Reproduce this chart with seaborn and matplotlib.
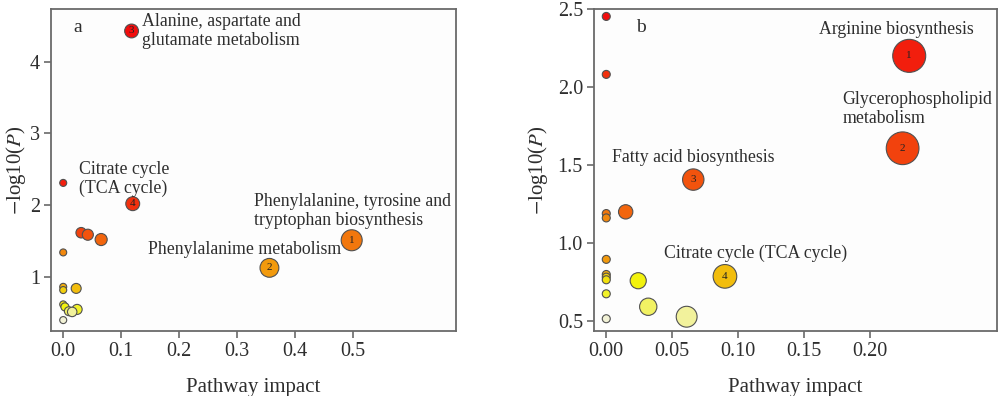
import colorsys
import numpy as np
import pandas as pd
import matplotlib
matplotlib.use("Agg")
import matplotlib.pyplot as plt
import seaborn as sns
from matplotlib.colors import ListedColormap

# ---------------- data: panel a ----------------
impact_a = [0.118, 0.0, 0.120, 0.031, 0.0425, 0.0655, 0.498, 0.0, 0.356,
            0.0, 0.0224, 0.0, 0.0, 0.003, 0.024, 0.0098, 0.0155, 0.0]
logp_a = [4.43, 2.31, 2.02, 1.615, 1.587, 1.52, 1.51, 1.34, 1.125,
          0.86, 0.838, 0.815, 0.615, 0.58, 0.545, 0.52, 0.51, 0.396]
num_idx_a = [0, 2, 6, 8]
num_txt_a = ["3", "4", "1", "2"]
ann_txt_a = ["Alanine, aspartate and\nglutamate metabolism",
             "Citrate cycle\n(TCA cycle)",
             "Phenylalanine, tyrosine and\ntryptophan biosynthesis",
             "Phenylalanime metabolism"]
ann_x_a = [0.136, 0.028, 0.329, 0.146]
ann_y_a = [4.43, 2.37, 1.92, 1.38]
xticks_a = [0.0, 0.1, 0.2, 0.3, 0.4, 0.5]
yticks_a = [1, 2, 3, 4]

# ---------------- data: panel b ----------------
impact_b = [0.0, 0.2295, 0.0, 0.2245, 0.0659, 0.0147, 0.0, 0.0, 0.0,
            0.0, 0.0899, 0.0, 0.0, 0.0242, 0.0, 0.0318, 0.0609, 0.0]
logp_b = [2.453, 2.20, 2.081, 1.607, 1.406, 1.199, 1.188, 1.16, 0.894,
          0.797, 0.785, 0.78, 0.763, 0.757, 0.673, 0.59, 0.526, 0.513]
num_idx_b = [1, 3, 4, 10]
num_txt_b = ["1", "2", "3", "4"]
ann_txt_b = ["Arginine biosynthesis",
             "Glycerophospholipid\nmetabolism",
             "Fatty acid biosynthesis",
             "Citrate cycle (TCA cycle)"]
ann_x_b = [0.161, 0.1788, 0.0045, 0.0439]
ann_y_b = [2.372, 1.859, 1.549, 0.934]
xticks_b = [0.00, 0.05, 0.10, 0.15, 0.20]
yticks_b = [0.5, 1.0, 1.5, 2.0, 2.5]

sns.set_theme(style="white")
plt.rcParams['font.family'] = ['Liberation Serif', 'DejaVu Serif']
plt.rcParams['mathtext.fontset'] = 'stix'

TXT = "#2e2e2e"
SPINE = "#6a6a6a"


def heat_colors(n):
    """R's heat.colors(n)"""
    j = n // 4
    i = n - j
    cols = [colorsys.hsv_to_rgb((k / (i - 1)) * (1 / 6), 1, 1) for k in range(i)]
    if j > 0:
        ss = np.linspace(1 - 1 / (2 * j), 1 / (2 * j), j)
        cols += [colorsys.hsv_to_rgb(1 / 6, s, 1) for s in ss]
    # slight muting as in the printed figure
    return [tuple(np.clip(np.array(c) * 0.9 + 0.05, 0, 1)) for c in cols]


def panel(ax, impact, logp, dmin, dmax, xlim, ylim, xticks, yticks, xfmt, yfmt,
          num_idx, num_txt, ann_x, ann_y, ann_txt, letter, letter_x, ylab_x):
    df = pd.DataFrame({"impact": impact, "logp": logp})
    n = len(df)
    order = np.argsort(-df["logp"].to_numpy(), kind="stable")
    rank = np.empty(n, dtype=int)
    rank[order] = np.arange(1, n + 1)
    df["rank"] = rank
    cmap = ListedColormap(heat_colors(n))
    diam = dmin + (dmax - dmin) * np.sqrt(df["impact"] / df["impact"].max())
    s = (diam * 72 / 100) ** 2
    sns.scatterplot(data=df, x="impact", y="logp", hue="rank", palette=cmap,
                    hue_norm=(0.5, n + 0.5), s=s, edgecolor="#505050",
                    linewidth=0.8, legend=False, ax=ax, zorder=3)
    for i, t in zip(num_idx, num_txt):
        ax.text(impact[i], logp[i], t, ha="center", va="center",
                fontsize=8, color="#222222", zorder=4)
    for x, y, t in zip(ann_x, ann_y, ann_txt):
        ax.text(x, y, t, ha="left", va="center", fontsize=12.8,
                color=TXT, linespacing=1.12, zorder=5)
    ax.set_xlim(*xlim)
    ax.set_ylim(*ylim)
    ax.set_xticks(xticks)
    ax.set_xticklabels([xfmt.format(v) for v in xticks])
    ax.set_yticks(yticks)
    ax.set_yticklabels([yfmt.format(v) for v in yticks])
    ax.tick_params(axis="both", direction="out", length=5, width=1.2,
                   color=SPINE, labelsize=14.5, labelcolor=TXT, pad=3,
                   left=True, bottom=True)
    for sp in ax.spines.values():
        sp.set_color(SPINE)
        sp.set_linewidth(1.3)
    ax.set_facecolor("#fdfdfd")
    ax.set_xlabel("Pathway impact", fontsize=15, color=TXT)
    ax.set_ylabel(r"$-$log10($P$)", fontsize=15, color=TXT)
    ax.xaxis.set_label_coords(0.5, -0.145)
    ax.yaxis.set_label_coords(ylab_x, 0.5)
    ax.text(letter_x, 0.944, letter, transform=ax.transAxes, ha="center",
            va="center", fontsize=14, color=TXT)


fig = plt.figure(figsize=(10.01, 3.96), dpi=100)
fig.patch.set_facecolor("white")
ax_a = fig.add_axes([0.051, 0.164, 0.4045, 0.813])
ax_b = fig.add_axes([0.5934, 0.164, 0.4026, 0.813])

panel(ax_a, impact_a, logp_a, 7, 21, (-0.021, 0.678), (0.243, 4.735),
      xticks_a, yticks_a, "{:.1f}", "{:d}", num_idx_a, num_txt_a,
      ann_x_a, ann_y_a, ann_txt_a, "a", 0.067, -0.057)
panel(ax_b, impact_b, logp_b, 8, 33, (-0.0093, 0.296), (0.434, 2.5),
      xticks_b, yticks_b, "{:.2f}", "{:.1f}", num_idx_b, num_txt_b,
      ann_x_b, ann_y_b, ann_txt_b, "b", 0.117, -0.109)

fig.savefig("out.png", dpi=100, facecolor="white")
